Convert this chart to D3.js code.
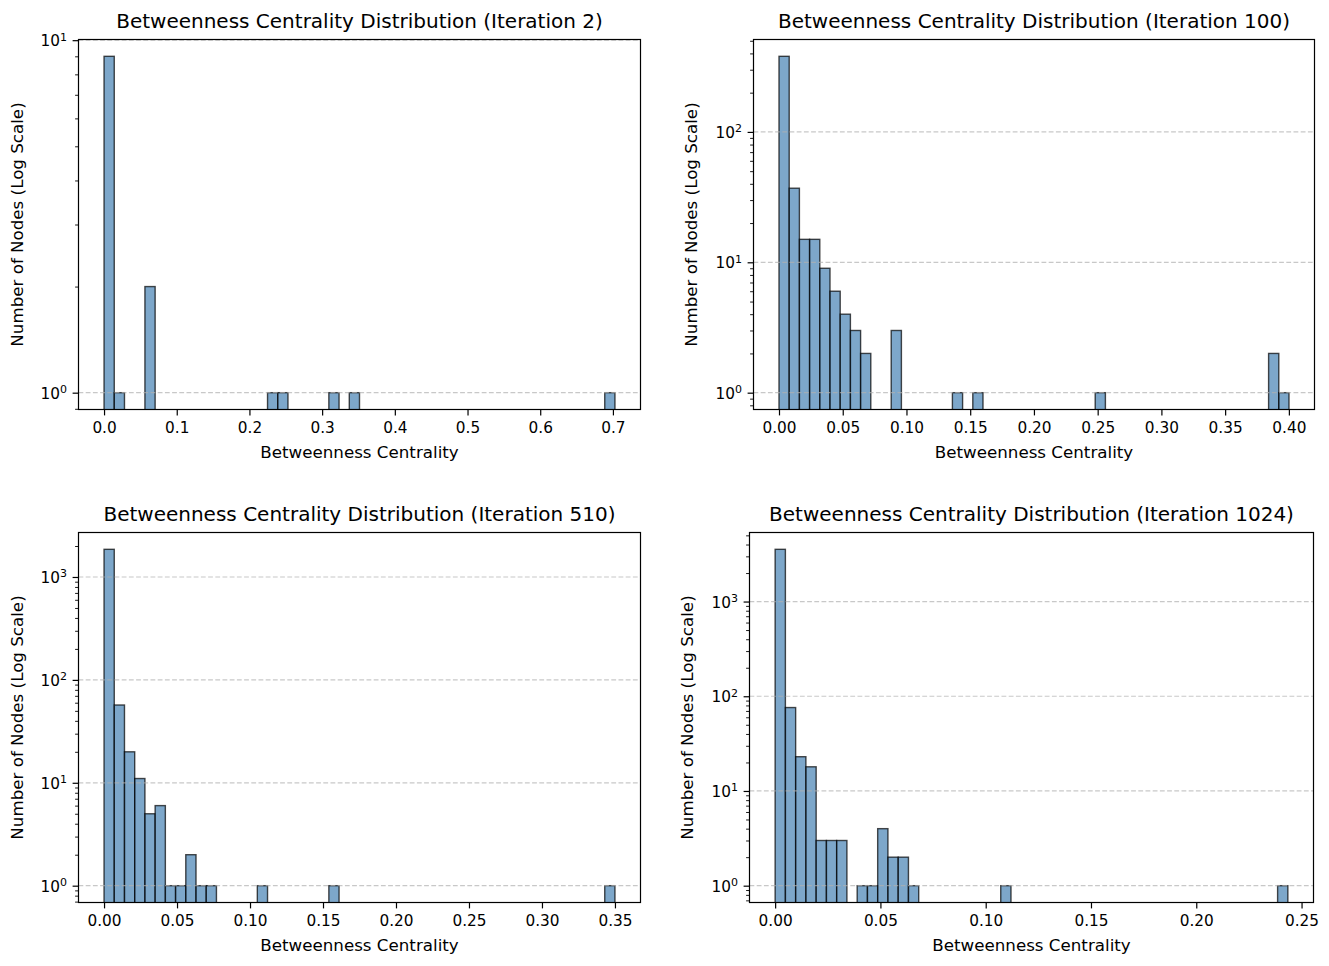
<!DOCTYPE html>
<meta charset="utf-8">
<title>Betweenness Centrality Distribution</title>
<style>
  body { margin: 0; background: #fff; }
  text { font-family: "DejaVu Sans", sans-serif; fill: #000; }
</style>
<body>
<div id="chart"></div>
<script src="https://d3js.org/d3.v7.min.js"></script>
<script>

// iteracoes mostradas
var iterations = [2, 100, 510, 1024];

// contagem de nos por bin (50 bins de 0 ate o maximo)
var counts2 = [9,1,0,0,2, 0,0,0,0,0, 0,0,0,0,0, 0,1,1,0,0, 0,0,1,0,1,
               0,0,0,0,0, 0,0,0,0,0, 0,0,0,0,0, 0,0,0,0,0, 0,0,0,0,1];
var counts100 = [380,37,15,15,9, 6,4,3,2,0, 0,3,0,0,0, 0,0,1,0,1, 0,0,0,0,0,
                 0,0,0,0,0, 0,1,0,0,0, 0,0,0,0,0, 0,0,0,0,0, 0,0,0,2,1];
var counts510 = [1857,57,20,11,5, 6,1,1,2,1, 1,0,0,0,0, 1,0,0,0,0, 0,0,1,0,0,
                 0,0,0,0,0, 0,0,0,0,0, 0,0,0,0,0, 0,0,0,0,0, 0,0,0,0,1];
var counts1024 = [3560,76,23,18,3, 3,3,0,1,1, 4,2,2,1,0, 0,0,0,0,0, 0,0,1,0,0,
                  0,0,0,0,0, 0,0,0,0,0, 0,0,0,0,0, 0,0,0,0,0, 0,0,0,0,1];

// menor e maior centralidade de cada iteracao
var minBC = [0, 0, 0, 0];
var maxBC = [0.7028, 0.4001, 0.35, 0.2435];

// rotulos do eixo x
var xTicks2 = [0, 0.1, 0.2, 0.3, 0.4, 0.5, 0.6, 0.7];
var xTicks100 = [0, 0.05, 0.1, 0.15, 0.2, 0.25, 0.3, 0.35, 0.4];
var xTicks510 = [0, 0.05, 0.1, 0.15, 0.2, 0.25, 0.3, 0.35];
var xTicks1024 = [0, 0.05, 0.1, 0.15, 0.2, 0.25];
var xDecimals = [1, 2, 2, 2];

var allCounts = [counts2, counts100, counts510, counts1024];
var allTicks = [xTicks2, xTicks100, xTicks510, xTicks1024];

// posicao de cada area de plotagem
var frames = [
  {left: 78.5, top: 39.5, right: 640.5, bottom: 409.5, ylab: 23},
  {left: 753.5, top: 39.5, right: 1314.5, bottom: 409.5, ylab: 697},
  {left: 78.5, top: 532.5, right: 640.5, bottom: 902.5, ylab: 23},
  {left: 749.5, top: 532.5, right: 1313.5, bottom: 902.5, ylab: 693}
];

var svg = d3.select("#chart")
  .append("svg")
    .attr("width", 1329)
    .attr("height", 966);

var tickLen = 5.9, minorLen = 3.4, pad = 6.8;
var tickFont = "15.3px", labelFont = "16.7px", titleFont = "20px";

iterations.forEach(function(it, p) {
  var f = frames[p];
  var width = f.right - f.left, height = f.bottom - f.top;
  var counts = allCounts[p];
  var nBins = counts.length;
  var lo = minBC[p], hi = maxBC[p];
  var span = hi - lo;

  var g = svg.append("g")
      .attr("transform", "translate(" + f.left + "," + f.top + ")");

  // bins do histograma
  var bins = counts.map(function(c, i) {
    return {x0: lo + span * i / nBins, x1: lo + span * (i + 1) / nBins, n: c};
  }).filter(function(d) { return d.n > 0; });

  var x = d3.scaleLinear()
      .domain([lo - 0.05 * span, hi + 0.05 * span])
      .range([0, width]);

  var top = Math.log10(d3.max(counts));
  var y = d3.scaleLog()
      .domain([Math.pow(10, -0.05 * top), Math.pow(10, 1.05 * top)])
      .range([height, 0]);

  g.append("clipPath")
      .attr("id", "clip" + p)
    .append("rect")
      .attr("width", width)
      .attr("height", height);

  // barras
  g.append("g")
      .attr("clip-path", "url(#clip" + p + ")")
    .selectAll("rect")
    .data(bins)
    .enter()
    .append("rect")
      .attr("x", function(d) { return x(d.x0); })
      .attr("y", function(d) { return y(d.n); })
      .attr("width", function(d) { return x(d.x1) - x(d.x0); })
      .attr("height", function(d) { return height + 5 - y(d.n); })
      .style("fill", "steelblue")
      .style("fill-opacity", 0.7)
      .style("stroke", "black")
      .style("stroke-opacity", 0.7)
      .style("stroke-width", 1.4);

  // ticks do eixo log
  var d0 = y.domain()[0], d1 = y.domain()[1];
  var majors = [], minors = [];
  for (var e = -1; e <= 5; e++) {
    var v = Math.pow(10, e);
    if (v >= d0 && v <= d1 * 1.0001) majors.push(v);
    for (var m = 2; m <= 9; m++) {
      var mv = m * v;
      if (mv >= d0 && mv <= d1) minors.push(mv);
    }
  }

  // grade horizontal tracejada
  g.append("g")
    .selectAll("line")
    .data(majors)
    .enter()
    .append("line")
      .attr("x1", 0)
      .attr("x2", width)
      .attr("y1", function(d) { return y(d); })
      .attr("y2", function(d) { return y(d); })
      .style("stroke", "#b0b0b0")
      .style("stroke-opacity", 0.7)
      .style("stroke-width", 1.2)
      .style("stroke-dasharray", "4.8,2.4");

  // eixo x
  var xAxis = g.append("g")
      .attr("transform", "translate(0," + height + ")")
      .call(d3.axisBottom(x)
        .tickValues(allTicks[p])
        .tickSize(tickLen)
        .tickPadding(pad)
        .tickFormat(d3.format("." + xDecimals[p] + "f")));
  xAxis.select(".domain").remove();
  xAxis.selectAll("line").style("stroke-width", 1.2);
  xAxis.selectAll("text")
      .style("font-family", "DejaVu Sans")
      .style("font-size", tickFont)
      .attr("fill", "#000");

  // eixo y (menores)
  var yMinor = g.append("g")
      .call(d3.axisLeft(y).tickValues(minors).tickSize(minorLen).tickFormat(""));
  yMinor.select(".domain").remove();
  yMinor.selectAll("line").style("stroke-width", 0.9);

  // eixo y (maiores) com expoente
  var yAxis = g.append("g")
      .call(d3.axisLeft(y).tickValues(majors).tickSize(tickLen).tickPadding(5.6));
  yAxis.select(".domain").remove();
  yAxis.selectAll("line").style("stroke-width", 1.2);
  yAxis.selectAll("text")
      .style("font-family", "DejaVu Sans")
      .style("font-size", tickFont)
      .attr("fill", "#000")
      .attr("dy", "0.36em")
      .each(function(d) {
        var t = d3.select(this);
        t.text("");
        t.append("tspan").text("10");
        t.append("tspan")
          .attr("dy", "-0.5em")
          .style("font-size", "11px")
          .text(String(Math.round(Math.log10(d))));
      });

  // moldura
  g.append("rect")
      .attr("width", width)
      .attr("height", height)
      .style("fill", "none")
      .style("stroke", "black")
      .style("stroke-width", 1.2);

  // titulo
  g.append("text")
      .attr("x", width / 2)
      .attr("y", -12)
      .attr("text-anchor", "middle")
      .style("font-size", titleFont)
      .text("Betweenness Centrality Distribution (Iteration " + it + ")");

  // rotulos dos eixos
  g.append("text")
      .attr("x", width / 2)
      .attr("y", height + 48.5)
      .attr("text-anchor", "middle")
      .style("font-size", labelFont)
      .text("Betweenness Centrality");

  g.append("text")
      .attr("transform", "translate(" + (f.ylab - f.left) + "," + (height / 2) + ") rotate(-90)")
      .attr("text-anchor", "middle")
      .style("font-size", labelFont)
      .text("Number of Nodes (Log Scale)");
});

</script>
</body>
